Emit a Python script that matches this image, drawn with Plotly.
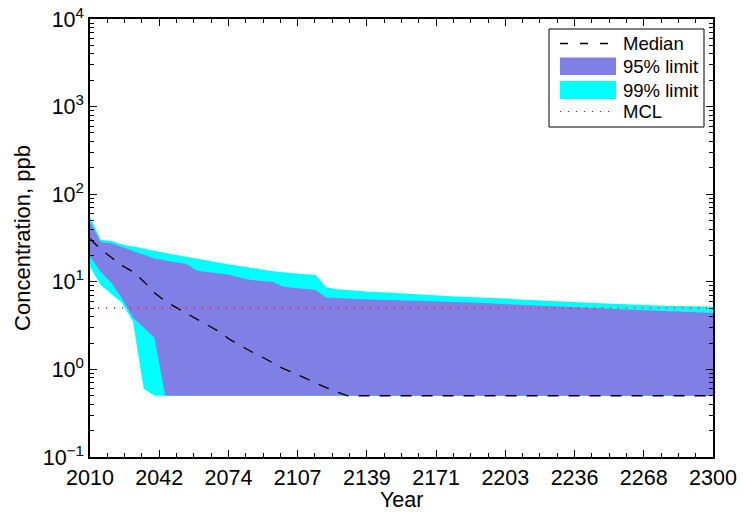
import plotly.graph_objects as go

# Simulation years (5-year steps to 2130, 10-year steps afterwards)
years = [2010, 2015, 2020, 2025, 2030, 2035, 2040, 2045, 2050, 2055, 2060,
         2065, 2070, 2075, 2080, 2085, 2090, 2095, 2100, 2105, 2110, 2115,
         2120, 2125, 2130, 2140, 2150, 2160, 2170, 2180, 2190, 2200, 2210,
         2220, 2230, 2240, 2250, 2260, 2270, 2280, 2290, 2300]

# Concentrations in ppb
median = [31.0, 23.5, 18.9, 15.3, 13.0, 10.1, 7.5, 6.0, 5.1, 4.35, 3.72,
          3.17, 2.71, 2.2, 1.87, 1.6, 1.39, 1.18, 1.02, 0.91, 0.79, 0.70,
          0.62, 0.55, 0.5] + [0.5] * 17

p99_hi = [55.0, 30.0, 29.2, 26.7, 25.3, 23.8, 22.6, 21.3, 20.2, 19.3, 18.2,
          17.3, 16.5, 15.8, 15.0, 14.4, 13.8, 13.2, 12.8, 12.5, 12.2, 12.0,
          8.6, 8.2, 8.0, 7.7, 7.5, 7.2, 7.0, 6.8, 6.7, 6.5, 6.3,
          6.1, 5.9, 5.8, 5.65, 5.5, 5.4, 5.3, 5.25, 5.2]
p99_lo = [14.8, 9.2, 7.3, 5.7, 3.5, 0.6] + [0.5] * 36

p95_hi = [48.5, 28.2, 27.5, 24.8, 22.5, 20.0, 18.4, 17.5, 16.9, 16.0, 13.4,
          12.9, 12.5, 12.0, 11.1, 10.5, 10.2, 10.0, 8.8, 8.55, 8.3, 8.05,
          6.6, 6.5, 6.4, 6.3, 6.2, 6.1, 6.0, 5.9, 5.75, 5.6, 5.45,
          5.3, 5.15, 5.0, 4.9, 4.8, 4.7, 4.6, 4.5, 4.4]
p95_lo = [19.4, 13.0, 9.7, 6.4, 3.9, 3.0, 2.3] + [0.5] * 35

mcl = 5.0

x_tickvals = [2010 + i * 290 / 9 for i in range(10)]
x_ticktext = ["2010", "2042", "2074", "2107", "2139", "2171", "2203",
              "2236", "2268", "2300"]
y_tickvals = [0.1, 1, 10, 100, 1000, 10000]
y_ticktext = ["10<sup>\u22121</sup>", "10<sup>0</sup>", "10<sup>1</sup>",
              "10<sup>2</sup>", "10<sup>3</sup>", "10<sup>4</sup>"]

legend_labels = ["Median", "95% limit", "99% limit", "MCL"]

PURPLE = "rgb(127,127,229)"
CYAN = "rgb(0,255,255)"
FONT = "Liberation Sans, Arial, sans-serif"

W, H = 744, 516
ML, MR, MT, MB = 90, 31, 19, 59
PW, PH = W - ML - MR, H - MT - MB


def px(x):
    """Horizontal pixel position -> paper fraction of the plot area."""
    return (x - ML) / PW


def py(y):
    """Vertical pixel position (from top) -> paper fraction of the plot area."""
    return (H - MB - y) / PH


fig = go.Figure()

fig.add_trace(go.Scatter(
    x=years + years[::-1], y=p99_hi + p99_lo[::-1],
    fill="toself", fillcolor=CYAN, mode="lines",
    line=dict(width=0, color=CYAN), name="99% limit",
))
fig.add_trace(go.Scatter(
    x=years + years[::-1], y=p95_hi + p95_lo[::-1],
    fill="toself", fillcolor=PURPLE, mode="lines",
    line=dict(width=0, color=PURPLE), name="95% limit",
))
fig.add_trace(go.Scatter(
    x=years, y=median, mode="lines", name="Median",
    line=dict(color="black", width=1.3, dash="11px,10px"),
))
fig.add_trace(go.Scatter(
    x=[years[0], years[-1]], y=[mcl, mcl], mode="lines", name="MCL",
    line=dict(color="red", width=1.2, dash="1px,7px"),
))

# Legend box drawn in the upper right corner of the axes
shapes = [
    dict(type="rect", xref="paper", yref="paper",
         x0=px(549), x1=px(704), y0=py(127), y1=py(29),
         line=dict(color="black", width=1), fillcolor="white", layer="above"),
    dict(type="line", xref="paper", yref="paper",
         x0=px(560), x1=px(616), y0=py(43.5), y1=py(43.5),
         line=dict(color="black", width=1.3, dash="8px,12px"), layer="above"),
    dict(type="rect", xref="paper", yref="paper",
         x0=px(560), x1=px(616), y0=py(75), y1=py(57.5),
         line=dict(width=0), fillcolor=PURPLE, layer="above"),
    dict(type="rect", xref="paper", yref="paper",
         x0=px(560), x1=px(616), y0=py(99), y1=py(81),
         line=dict(width=0), fillcolor=CYAN, layer="above"),
    dict(type="line", xref="paper", yref="paper",
         x0=px(560), x1=px(616), y0=py(111.5), y1=py(111.5),
         line=dict(color="red", width=1.2, dash="1px,7px"), layer="above"),
]
label_y = [44, 66, 90, 111.5]
annotations = [
    dict(text=t, xref="paper", yref="paper", x=px(621), y=py(yy),
         xanchor="left", yanchor="middle", showarrow=False,
         font=dict(size=18.5, family=FONT, color="black"))
    for t, yy in zip(legend_labels, label_y)
]
# x-axis title, placed just under the tick labels
annotations.append(dict(
    text="Year", xref="paper", yref="paper", x=0.5, y=py(500),
    xanchor="center", yanchor="middle", showarrow=False,
    font=dict(size=21.5, family=FONT, color="black"),
))

minor_y = [m * 10 ** e for e in range(-1, 4) for m in range(2, 10)]

fig.update_layout(
    width=W, height=H,
    margin=dict(l=ML, r=MR, t=MT, b=MB, autoexpand=False),
    paper_bgcolor="white", plot_bgcolor="white",
    font=dict(family=FONT, size=22, color="black"),
    showlegend=False,
    shapes=shapes,
    annotations=annotations,
    xaxis=dict(
        range=[2010, 2300], tickmode="array", tickvals=x_tickvals,
        ticktext=x_ticktext, ticks="inside", ticklen=7, tickcolor="black",
        showline=True, linecolor="black", linewidth=1.5, mirror="allticks",
        showgrid=False, zeroline=False, tickfont=dict(size=21.5),
        automargin=False,
        minor=dict(ticks="inside", ticklen=4, tick0=2010, dtick=290 / 36,
                   tickcolor="black", showgrid=False),
    ),
    yaxis=dict(
        type="log", range=[-1, 4], tickmode="array", tickvals=y_tickvals,
        ticktext=y_ticktext, ticks="inside", ticklen=7, tickcolor="black",
        showline=True, linecolor="black", linewidth=1.5, mirror="allticks",
        showgrid=False, zeroline=False, tickfont=dict(size=21.5),
        automargin=False,
        minor=dict(ticks="inside", ticklen=4, tickmode="array",
                   tickvals=minor_y, tickcolor="black", showgrid=False),
        title=dict(text="Concentration, ppb", standoff=6,
                   font=dict(size=22)),
    ),
)

fig.write_html("out.html")
